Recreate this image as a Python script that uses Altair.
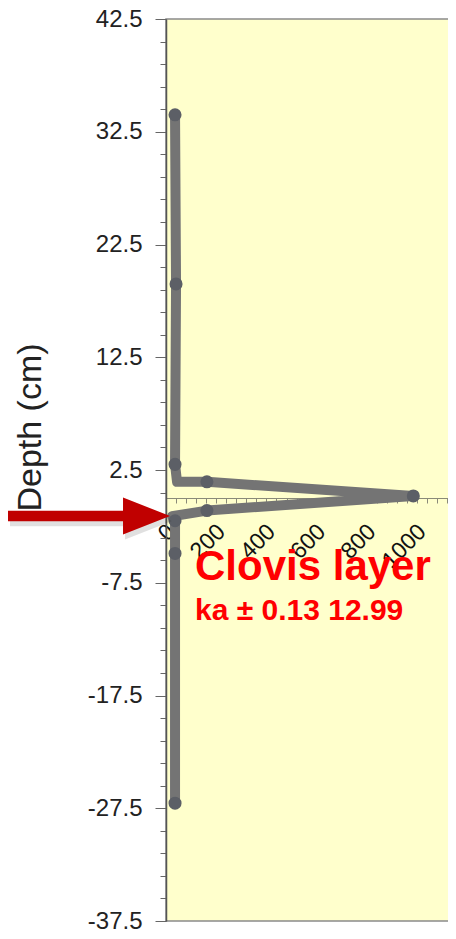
import altair as alt
import pandas as pd

# --- data ---
depth_cm = [34.0, 19.0, 3.0, 1.45, 1.45, 0.2, -1.1, -1.6, -2.0, -4.9, -27.05]
value = [36, 40, 36, 44, 163, 985, 163, 24, 36, 36, 36]
has_marker = [True, True, True, False, True, True, True, False, True, True, True]

x_tick_values = list(range(0, 1201, 40))
y_tick_values = [-37.5 + 2 * k for k in range(41)]

annot_title = "Clovis layer"
annot_sub = "ka ± 0.13 12.99"
y_title = "Depth (cm)"

FONT = "Liberation Sans, Arial, sans-serif"

df = pd.DataFrame({
    "idx": list(range(len(depth_cm))),
    "depth": depth_cm,
    "value": value,
    "marker": has_marker,
})
pts = df[df["marker"]]

xscale = alt.Scale(domain=[0, 1155], nice=False, zero=False)
yscale = alt.Scale(domain=[-37.5, 42.5], nice=False, zero=False)

x_axis = alt.Axis(
    values=x_tick_values,
    labelExpr="datum.value % 200 == 0 ? '' + datum.value : ''",
    labelAngle=-45,
    labelFontSize=23,
    labelFont=FONT,
    labelColor="#111111",
    labelOverlap=False,
    labelFlush=False,
    labelBound=False,
    labelPadding=17,
    labelOffset=-3,
    tickSize=5,
    tickColor="#8a8a78",
    domainColor="#8a8a78",
    domainWidth=1,
    offset=-423,
    title=None,
    grid=False,
)

major_test = "(datum.value + 37.5) % 10 == 0"
y_axis = alt.Axis(
    values=y_tick_values,
    labelExpr=major_test + " ? '' + datum.value : ''",
    labelFontSize=24,
    labelFont=FONT,
    labelColor="#222222",
    labelPadding=13,
    labelOverlap=False,
    labelFlush=False,
    labelBound=False,
    tickSize={"condition": {"test": major_test, "value": 11}, "value": 6},
    tickColor="#666666",
    domainColor="#555555",
    domainWidth=1.5,
    title=y_title,
    titleFont=FONT,
    titleFontSize=34,
    titleFontWeight="normal",
    titleColor="#222222",
    titleAngle=270,
    titleBaseline="alphabetic",
    titleAlign="center",
    titleX=-126,
    titleY=408,
    grid=False,
)

line = alt.Chart(df).mark_line(color="#747474", strokeWidth=10, strokeCap="round", strokeJoin="round").encode(
    x=alt.X("value:Q", scale=xscale, axis=x_axis),
    y=alt.Y("depth:Q", scale=yscale, axis=y_axis),
    order="idx:O",
)

points = alt.Chart(pts).mark_circle(color="#5c5f66", size=170, opacity=1).encode(
    x=alt.X("value:Q", scale=xscale, axis=x_axis),
    y=alt.Y("depth:Q", scale=yscale, axis=y_axis),
)

one = pd.DataFrame({"k": [0]})

arrow_path = "M -1 -0.065 L 0.42 -0.065 L 0.42 -0.228 L 1 0 L 0.42 0.228 L 0.42 0.065 L -1 0.065 Z"

arrow_shadow = alt.Chart(one).mark_point(
    shape=arrow_path, size=26244, filled=True, color="#000000", opacity=0.12, strokeWidth=0
).encode(x=alt.value(-75), y=alt.value(502))

arrow = alt.Chart(one).mark_point(
    shape=arrow_path, size=26244, filled=True, color="#C00000", opacity=1, strokeWidth=0
).encode(x=alt.value(-77), y=alt.value(497))

text1 = alt.Chart(one).mark_text(
    text=annot_title, color="#FF0000", font=FONT, fontSize=42, fontWeight="bold",
    align="left", baseline="alphabetic"
).encode(x=alt.value(29), y=alt.value(561))

text2 = alt.Chart(one).mark_text(
    text=annot_sub, color="#FF0000", font=FONT, fontSize=30, fontWeight="bold",
    align="left", baseline="alphabetic"
).encode(x=alt.value(29), y=alt.value(601))

chart = alt.layer(line, points, arrow_shadow, arrow, text1, text2).properties(
    width=290,
    height=902,
    autosize=alt.AutoSizeParams(type="none"),
    padding={"left": 158, "top": 11, "right": -8, "bottom": 10},
).configure(
    background="white"
).configure_axis(
    labelOverlap=False
).configure_view(
    fill="#FFFFCC", stroke="#8a8a8a", strokeWidth=1.5
)

chart.save("out.html", embed_options={"renderer": "svg", "actions": False})
